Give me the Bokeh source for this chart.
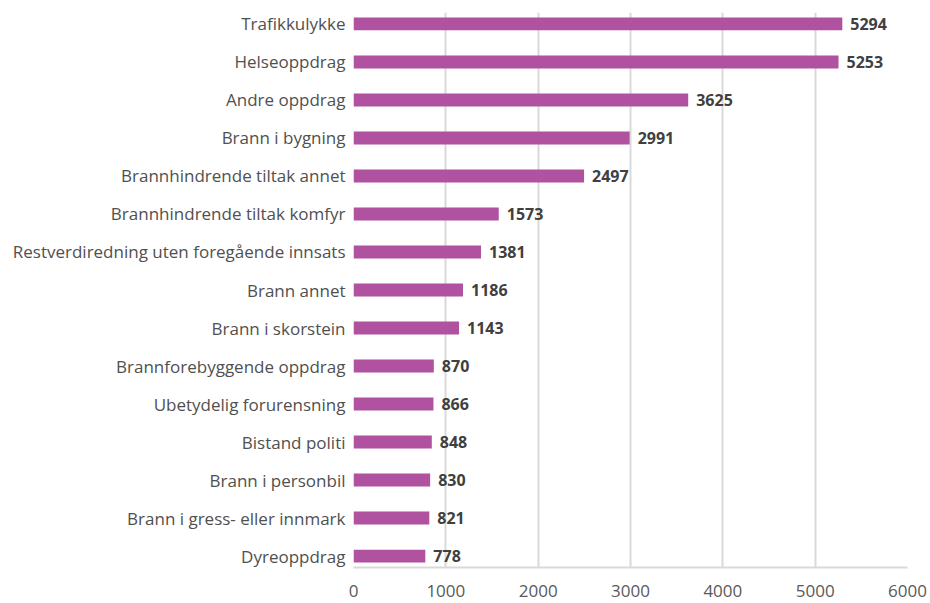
from bokeh.plotting import figure
from bokeh.models import FactorRange, ColumnDataSource, Range1d, FixedTicker
from bokeh.embed import file_html
from bokeh.resources import INLINE
from bokeh.core.properties import value

categories = [
    "Trafikkulykke",
    "Helseoppdrag",
    "Andre oppdrag",
    "Brann i bygning",
    "Brannhindrende tiltak annet",
    "Brannhindrende tiltak komfyr",
    "Restverdiredning uten foregående innsats",
    "Brann annet",
    "Brann i skorstein",
    "Brannforebyggende oppdrag",
    "Ubetydelig forurensning",
    "Bistand politi",
    "Brann i personbil",
    "Brann i gress- eller innmark",
    "Dyreoppdrag",
]
counts = [5294, 5253, 3625, 2991, 2497, 1573, 1381, 1186, 1143, 870, 866, 848, 830, 821, 778]
x_ticks = [0, 1000, 2000, 3000, 4000, 5000, 6000]

FONT = "Open Sans"
BAR = "#B0529F"

src = ColumnDataSource(dict(cat=categories, n=counts, lab=[str(v) for v in counts]))

p = figure(
    width=928, height=601,
    y_range=FactorRange(factors=list(reversed(categories)), range_padding=-0.2,
                        range_padding_units="absolute"),
    x_range=Range1d(0, 6000),
    output_backend="svg", toolbar_location=None,
    min_border_left=353, min_border_right=21, min_border_top=12, min_border_bottom=34,
)

p.hbar(y="cat", right="n", left=0, height=0.34, source=src, color=BAR, line_color=None)
p.text(x="n", y="cat", text="lab", source=src, x_offset=8,
       text_align="left", text_baseline="middle",
       text_font=value(FONT), text_font_style="bold", text_font_size="16px",
       text_color="#404040")

p.outline_line_color = None
p.background_fill_color = "white"
p.border_fill_color = "white"

p.ygrid.grid_line_color = None
p.xgrid.grid_line_color = "#D9D9D9"
p.xgrid.grid_line_width = 2
p.xaxis.ticker = FixedTicker(ticks=x_ticks)

p.xaxis.axis_line_color = "#D9D9D9"
p.xaxis.axis_line_width = 2
p.xaxis.major_tick_line_color = None
p.xaxis.minor_tick_line_color = None
p.xaxis.major_label_text_font = FONT
p.xaxis.major_label_text_font_size = "17px"
p.xaxis.major_label_text_color = "#595959"
p.xaxis.major_label_standoff = 11

p.yaxis.axis_line_color = None
p.yaxis.major_tick_line_color = None
p.yaxis.minor_tick_line_color = None
p.yaxis.major_label_text_font = FONT
p.yaxis.major_label_text_font_size = "17px"
p.yaxis.major_label_text_color = "#505050"
p.yaxis.major_label_standoff = 2

open("out.html", "w").write(file_html(p, INLINE))
